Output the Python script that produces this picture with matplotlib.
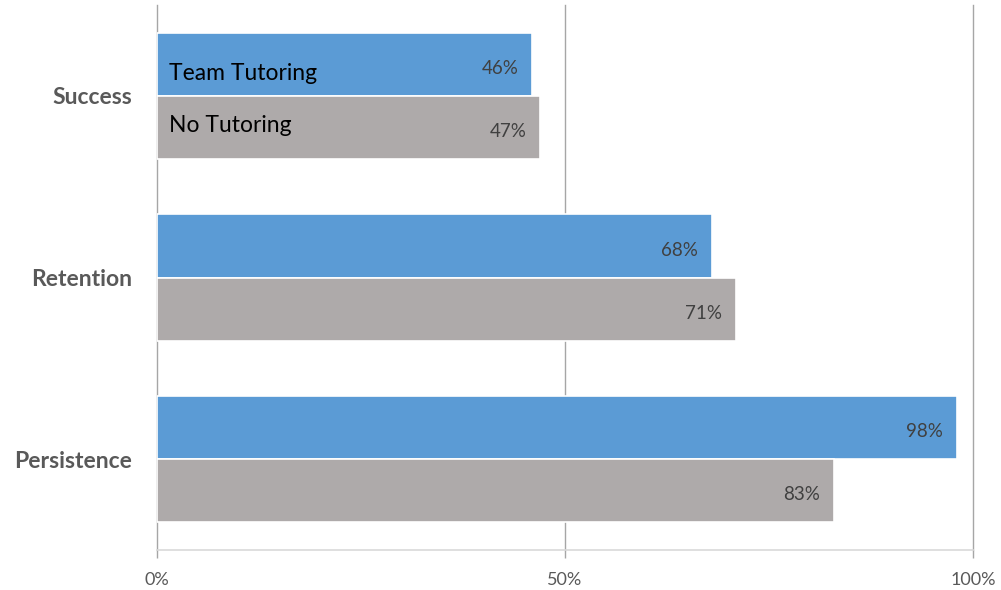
import matplotlib.pyplot as plt
import numpy as np

categories = ["Persistence", "Retention", "Success"]
team_tutoring = [98, 68, 46]
no_tutoring = [83, 71, 47]
series_names = ["Team Tutoring", "No Tutoring"]
x_ticks = [0, 50, 100]
x_tick_labels = ["0%", "50%", "100%"]

blue = "#5B9BD5"
grey = "#AEAAAA"
txt = "#595959"

plt.rcParams['font.family'] = ['Lato', 'DejaVu Sans']

fig = plt.figure(figsize=(10.01, 5.9), dpi=100)
ax = fig.add_axes([0.1568, 0.0678, 0.8152, 0.9237])

y = np.arange(len(categories))
h = 0.347
b1 = ax.barh(y + h / 2, team_tutoring, height=h, color=blue, edgecolor="white", linewidth=1.2, zorder=3)
b2 = ax.barh(y - h / 2, no_tutoring, height=h, color=grey, edgecolor="white", linewidth=1.2, zorder=3)

for bars, vals in ((b1, team_tutoring), (b2, no_tutoring)):
    for bar, v in zip(bars, vals):
        ax.annotate(f"{v}%", (v, bar.get_y() + bar.get_height() / 2),
                    xytext=(-10, -3), textcoords="offset points",
                    ha="right", va="center", fontsize=13.5, color="#404040", zorder=4)

# series names written inside the top pair of bars
top = len(categories) - 1
ax.text(1.5, top + h / 2 - 0.05, series_names[0], ha="left", va="center", fontsize=16.5, color="black", zorder=4)
ax.text(1.5, top - h / 2 + 0.01, series_names[1], ha="left", va="center", fontsize=16.5, color="black", zorder=4)

ax.set_xlim(0, 100)
ax.set_ylim(-0.5, len(categories) - 0.5)
ax.set_xticks(x_ticks)
ax.set_xticklabels(x_tick_labels, fontsize=13, color=txt)
ax.set_yticks(y)
ax.set_yticklabels(categories, fontsize=16.5, fontweight="bold", color=txt)
ax.tick_params(axis="y", length=0, pad=18)
ax.tick_params(axis="x", length=6, width=1, color="#A6A6A6", pad=10)
ax.grid(axis="x", color="#A6A6A6", linewidth=1, zorder=0)
for gl in ax.get_xgridlines():
    gl.set_clip_on(False)

for s in ("top", "right", "left"):
    ax.spines[s].set_visible(False)
ax.spines["bottom"].set_color("#D9D9D9")
ax.spines["bottom"].set_linewidth(1.2)

fig.savefig("out.png", dpi=100)
